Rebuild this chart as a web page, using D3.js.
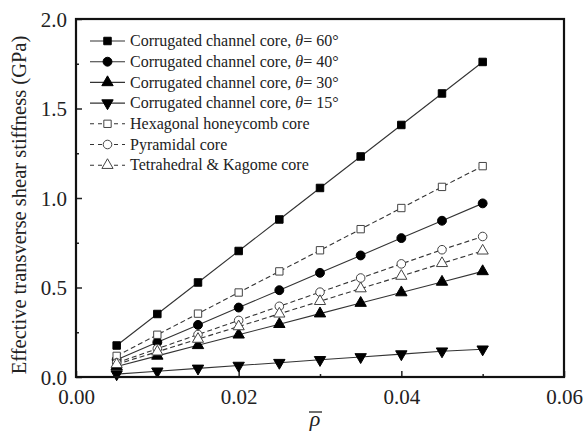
<!DOCTYPE html>
<html><head><meta charset="utf-8">
<script src="https://cdn.jsdelivr.net/npm/d3@7"></script>
<style>body{margin:0;background:#fff}svg{display:block}text{font-family:"Liberation Serif","Times New Roman",serif;fill:#222}</style>
</head><body>
<svg id="c" width="585" height="431"></svg>
<script>
const xVals = [0.005,0.010,0.015,0.020,0.025,0.030,0.035,0.040,0.045,0.050];
const theta60 = [0.176,0.352,0.528,0.704,0.880,1.056,1.232,1.408,1.584,1.760];
const theta40 = [0.097,0.194,0.291,0.388,0.485,0.582,0.679,0.776,0.873,0.970];
const theta30 = [0.059,0.118,0.177,0.236,0.295,0.354,0.413,0.472,0.531,0.590];
const theta15 = [0.016,0.032,0.048,0.064,0.080,0.096,0.112,0.128,0.144,0.155];
const hexagonal = [0.118,0.236,0.354,0.472,0.590,0.708,0.826,0.944,1.062,1.178];
const pyramidal = [0.079,0.158,0.237,0.316,0.395,0.474,0.553,0.632,0.711,0.785];
const tetraKagome = [0.071,0.141,0.212,0.282,0.353,0.423,0.494,0.564,0.635,0.705];
const seriesNames = ["Corrugated channel core, θ= 60°","Corrugated channel core, θ= 40°","Corrugated channel core, θ= 30°","Corrugated channel core, θ= 15°","Hexagonal honeycomb core","Pyramidal core","Tetrahedral & Kagome core"];
const xTicks = [0,0.02,0.04,0.06];
const yTicks = [0,0.5,1.0,1.5,2.0];

const series = [
  {name:seriesNames[0], v:theta60, sym:d3.symbolSquare, fill:true, dash:false, rot:0, size:56},
  {name:seriesNames[1], v:theta40, sym:d3.symbolCircle, fill:true, dash:false, rot:0, size:62},
  {name:seriesNames[2], v:theta30, sym:d3.symbolTriangle, fill:true, dash:false, rot:0, size:56},
  {name:seriesNames[3], v:theta15, sym:d3.symbolTriangle, fill:true, dash:false, rot:180, size:56},
  {name:seriesNames[4], v:hexagonal, sym:d3.symbolSquare, fill:false, dash:true, rot:0, size:54},
  {name:seriesNames[5], v:pyramidal, sym:d3.symbolCircle, fill:false, dash:true, rot:0, size:58},
  {name:seriesNames[6], v:tetraKagome, sym:d3.symbolTriangle, fill:false, dash:true, rot:0, size:54}
];

const L=76, R=564, T=19, B=377;
const svg = d3.select("#c");
const x = d3.scaleLinear().domain([0,0.06]).range([L,R]);
const y = d3.scaleLinear().domain([0,2.0]).range([B,T]);

// minor ticks
const g = svg.append("g");
g.append("g").attr("transform",`translate(0,${B})`)
  .call(d3.axisBottom(x).tickValues([0.01,0.03,0.05]).tickSize(-3).tickFormat(""))
  .call(a=>a.select(".domain").remove());
g.append("g").attr("transform",`translate(${L},0)`)
  .call(d3.axisLeft(y).tickValues([0.25,0.75,1.25,1.75]).tickSize(-3).tickFormat(""))
  .call(a=>a.select(".domain").remove());
// major
const xa = g.append("g").attr("transform",`translate(0,${B})`)
  .call(d3.axisBottom(x).tickValues(xTicks).tickSize(-6).tickPadding(12).tickFormat(d3.format(".2f")));
xa.select(".domain").remove();
const ya = g.append("g").attr("transform",`translate(${L},0)`)
  .call(d3.axisLeft(y).tickValues(yTicks).tickSize(-6).tickPadding(9).tickFormat(d3.format(".1f")));
ya.select(".domain").remove();
svg.selectAll(".tick line").attr("stroke","#222").attr("stroke-width",1.5);
svg.selectAll(".tick text").attr("font-size",21).attr("fill","#222").style("font-family",'"Liberation Serif",serif');
ya.selectAll(".tick text").attr("dy","0.35em");

// lines
const line = d3.line().x((d,i)=>x(xVals[i])).y(d=>y(d));
series.forEach(s=>{
  svg.append("path").attr("d",line(s.v)).attr("fill","none").attr("stroke","#333")
    .attr("stroke-width",1.1).attr("stroke-dasharray",s.dash?"5,3":null);
});
series.forEach(s=>{
  const sy = d3.symbol().type(s.sym).size(s.size);
  svg.append("g").selectAll("path").data(s.v).join("path")
    .attr("d",sy)
    .attr("transform",(d,i)=>`translate(${x(xVals[i])},${y(d)}) rotate(${s.rot})`)
    .attr("fill",s.fill?"#000":"#fff").attr("stroke",s.fill?"#000":"#444").attr("stroke-width",1);
});

// frame
svg.append("rect").attr("x",L).attr("y",T).attr("width",R-L).attr("height",B-T)
  .attr("fill","none").attr("stroke","#111").attr("stroke-width",2.2);

// legend
const lg = svg.append("g");
series.forEach((s,i)=>{
  const yy = 41 + i*20.7;
  lg.append("line").attr("x1",90).attr("x2",125).attr("y1",yy).attr("y2",yy)
    .attr("stroke","#333").attr("stroke-width",1.1).attr("stroke-dasharray",s.dash?"4,4":null);
  lg.append("path").attr("d",d3.symbol().type(s.sym).size(s.size)())
    .attr("transform",`translate(107.5,${yy}) rotate(${s.rot})`)
    .attr("fill",s.fill?"#000":"#fff").attr("stroke",s.fill?"#000":"#444");
  const t = lg.append("text").attr("x",130).attr("y",yy).attr("dy","0.33em").attr("font-size",16);
  if(i<4){
    const parts = s.name.split("θ");
    t.append("tspan").text(parts[0]);
    t.append("tspan").attr("font-style","italic").text("θ");
    t.append("tspan").text(parts[1]);
  } else t.text(s.name);
});

// axis titles
svg.append("text").attr("transform","translate(19,205) rotate(-90)").attr("text-anchor","middle")
  .attr("dy","0.35em").attr("font-size",20.5).text("Effective transverse shear stiffness (GPa)");
svg.append("text").attr("x",315).attr("y",426).attr("text-anchor","middle")
  .attr("font-size",22).attr("font-style","italic").text("ρ");
svg.append("line").attr("x1",309).attr("x2",322).attr("y1",412).attr("y2",412).attr("stroke","#222").attr("stroke-width",1.3);
</script>
</body></html>
